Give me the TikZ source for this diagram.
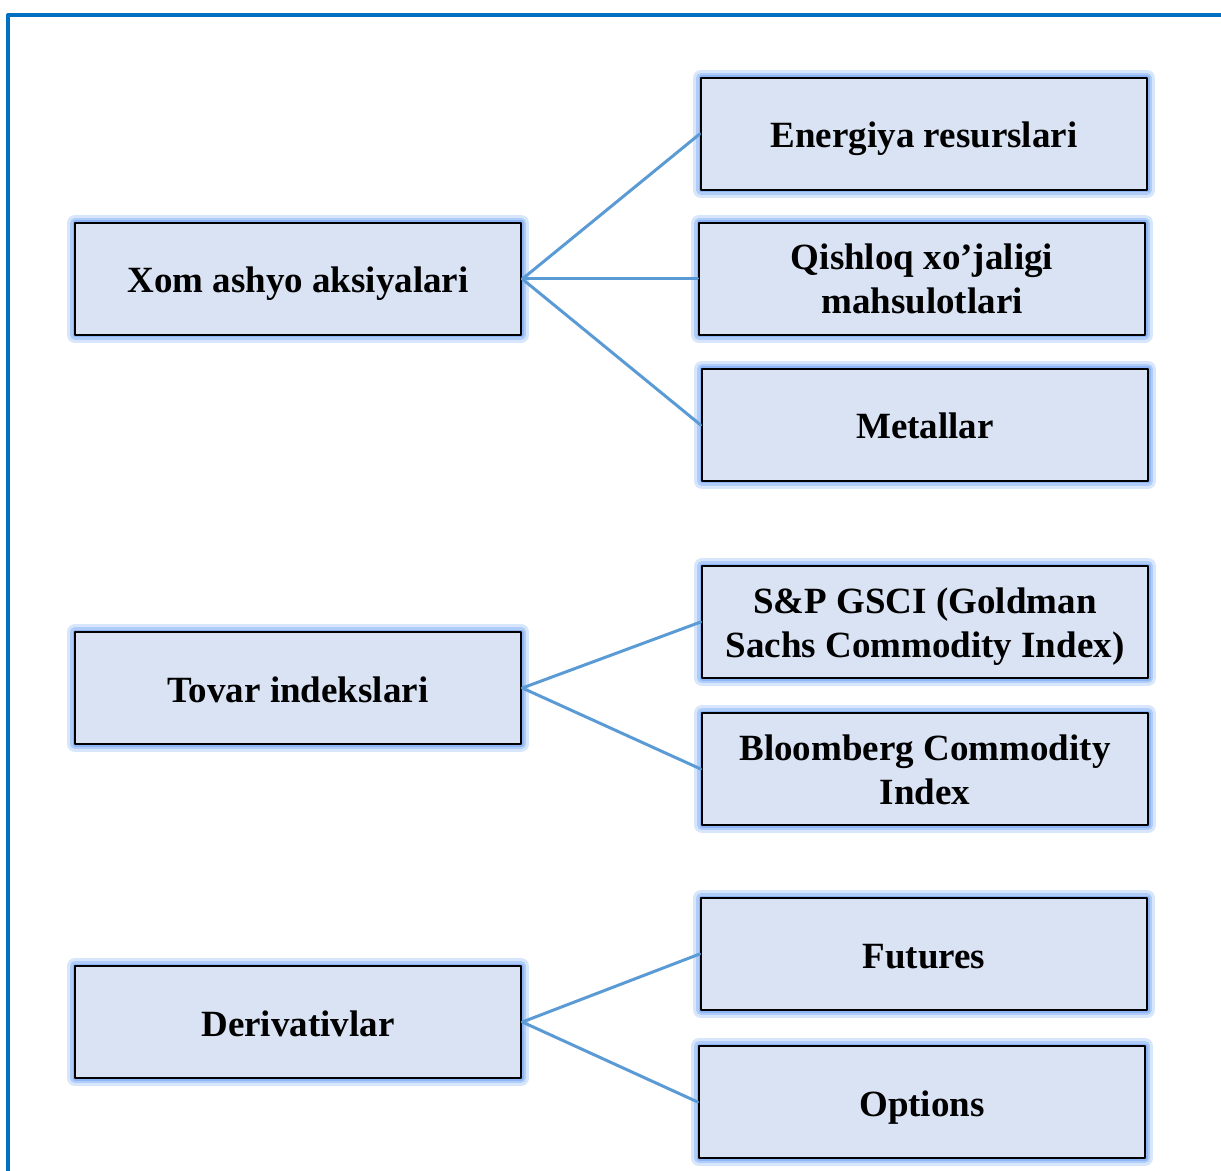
\documentclass[tikz,border=0pt]{standalone}
\usepackage{fontspec}
\setmainfont{Liberation Serif}
\usepackage{xcolor}
\usetikzlibrary{positioning}
\definecolor{boxfill}{HTML}{DAE3F3}
\definecolor{glowblue}{HTML}{7FADF6}
\definecolor{linkblue}{HTML}{5B9BD5}
\definecolor{framblue}{HTML}{0070C0}
\tikzset{
  box/.style={rectangle,draw=black,line width=1.3pt,fill=boxfill,
    minimum width=223pt,minimum height=56pt,align=center,
    font=\fontsize{18.5}{22}\selectfont\bfseries,
    text height=18.5pt,text depth=4.5pt,
    preaction={draw=glowblue,line width=8pt,opacity=0.3},
    preaction={draw=glowblue,line width=5pt,opacity=0.45},
    preaction={draw=glowblue,line width=2.5pt,opacity=0.7}},
  twoline/.style={text height=39.5pt},
  link/.style={draw=linkblue,line width=1.5pt}
}
\begin{document}
\begin{tikzpicture}[line cap=round,line join=round,x=0.5pt,y=-0.5pt]
\useasboundingbox (0,0) rectangle (1221,1171);
\clip (0,0) rectangle (1221,1171);
\draw [framblue,line width=1.6pt] (8,1200) -- (8,15) -- (1250,15);
% left column
\node[box] (xom) at (298,279) {Xom ashyo aksiyalari};
\node[box] (tovar) at (298,688) {Tovar indekslari};
\node[box] (deriv) at (298,1022) {Derivativlar};
% right column
\node[box] (energ) at (924,134) {Energiya resurslari};
\node[box,twoline] (qish) at (922,279) {Qishloq xo’jaligi\\mahsulotlari};
\node[box] (metal) at (925,425) {Metallar};
\node[box,twoline] (gsci) at (925,622) {S\&P GSCI (Goldman\\Sachs Commodity Index)};
\node[box,twoline] (bloom) at (925,769) {Bloomberg Commodity\\Index};
\node[box] (fut) at (924,954) {Futures};
\node[box] (opt) at (922,1102) {Options};
% links
\draw [link] (xom.east) -- (energ.west);
\draw [link] (xom.east) -- (qish.west);
\draw [link] (xom.east) -- (metal.west);
\draw [link] (tovar.east) -- (gsci.west);
\draw [link] (tovar.east) -- (bloom.west);
\draw [link] (deriv.east) -- (fut.west);
\draw [link] (deriv.east) -- (opt.west);
\end{tikzpicture}
\end{document}
